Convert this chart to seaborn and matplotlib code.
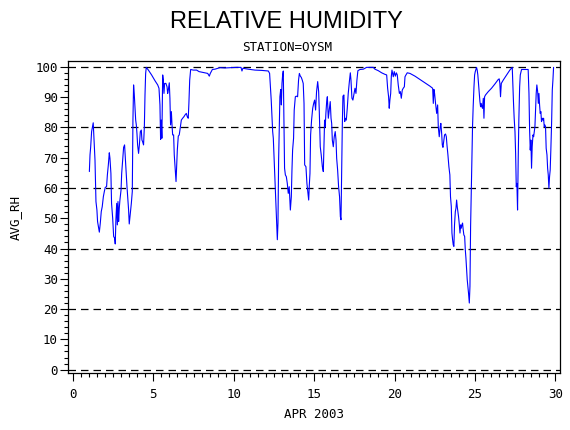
import numpy as np
import pandas as pd
import seaborn as sns
import matplotlib
matplotlib.use('Agg')
import matplotlib.pyplot as plt
from matplotlib.ticker import MultipleLocator

# hourly-ish readings, split into four stretches of the month
day_a = [1.02, 1.06, 1.10, 1.16, 1.20, 1.26, 1.31, 1.37, 1.41, 1.43,
         1.49, 1.53, 1.60, 1.64, 1.70, 1.76, 1.82, 1.89, 1.95, 2.01,
         2.09, 2.14, 2.20, 2.26, 2.30, 2.36, 2.40, 2.47, 2.53, 2.59,
         2.63, 2.67, 2.72, 2.76, 2.80, 2.84, 2.88, 2.92, 2.99, 3.03,
         3.09, 3.15, 3.21, 3.25, 3.30, 3.36, 3.42, 3.46, 3.50, 3.57,
         3.63, 3.69, 3.71, 3.73, 3.77, 3.81, 3.86, 3.90, 3.94, 3.98,
         4.02, 4.08, 4.13, 4.19, 4.25, 4.29, 4.33, 4.39, 4.44, 4.48,
         4.52, 4.56, 4.69, 4.89, 5.10, 5.27, 5.35, 5.41, 5.45, 5.49,
         5.53, 5.58, 5.62, 5.66, 5.70, 5.78, 5.85, 5.89, 5.93, 5.99,
         6.03, 6.07, 6.12, 6.16, 6.20, 6.26, 6.30, 6.34, 6.41, 6.45,
         6.49, 6.55, 6.61, 6.68, 6.74, 6.82, 6.90, 6.97, 7.05, 7.11,
         7.17, 7.21, 7.26, 7.32, 7.48, 7.69, 7.84]
rh_a = [65.4, 70.9, 73.4, 78.6, 79.7, 81.5, 75.8, 69.2, 60.4, 55.5,
        52.7, 48.9, 46.7, 45.4, 48.4, 52.2, 53.8, 57.1, 58.8, 60.2,
        60.4, 64.3, 67.6, 71.6, 69.8, 64.8, 54.9, 50.0, 44.0, 43.4,
        41.5, 49.5, 54.9, 47.8, 55.5, 48.9, 53.3, 56.0, 59.3, 64.8,
        69.2, 73.4, 74.2, 70.3, 65.9, 60.4, 56.0, 52.7, 48.1, 51.6,
        54.9, 58.8, 70.3, 82.4, 94.0, 91.2, 86.3, 82.4, 80.8, 78.0,
        74.2, 71.4, 74.2, 78.6, 79.1, 75.8, 75.3, 74.2, 80.2, 90.7,
        97.8, 99.8, 98.9, 97.3, 95.4, 94.0, 92.9, 87.4, 76.0, 82.4,
        76.4, 97.3, 95.6, 91.2, 94.5, 94.5, 93.4, 91.2, 92.3, 94.7,
        89.6, 80.8, 85.2, 80.8, 77.5, 77.5, 70.9, 67.6, 62.1, 67.0,
        72.5, 77.1, 77.5, 80.2, 82.4, 83.0, 83.5, 84.1, 84.6, 83.5,
        83.0, 87.9, 95.6, 99.1, 98.9, 98.9, 98.4]

day_b = [8.11, 8.38, 8.48, 8.54, 8.67, 8.83, 9.14, 9.45, 9.87, 10.18,
         10.45, 10.51, 10.57, 10.90, 11.32, 11.73, 12.15, 12.23, 12.27, 12.33,
         12.38, 12.42, 12.46, 12.50, 12.54, 12.58, 12.62, 12.67, 12.71, 12.75,
         12.79, 12.83, 12.87, 12.92, 12.96, 13.00, 13.04, 13.08, 13.12, 13.16,
         13.21, 13.27, 13.33, 13.39, 13.45, 13.52, 13.58, 13.62, 13.66, 13.72,
         13.76, 13.83, 13.89, 13.97, 14.03, 14.08, 14.14, 14.20, 14.26, 14.32,
         14.37, 14.41, 14.49, 14.55, 14.62, 14.66, 14.70, 14.74, 14.78, 14.84,
         14.91, 14.97, 15.03, 15.09, 15.15, 15.22, 15.28, 15.32]
rh_b = [98.1, 97.8, 96.9, 97.8, 99.1, 99.2, 99.7, 99.6, 99.7, 99.8,
        99.8, 98.6, 99.5, 99.2, 98.9, 98.8, 98.6, 97.8, 94.5, 89.0,
        83.5, 78.6, 76.4, 70.9, 65.9, 59.3, 53.8, 47.8, 42.9, 48.4,
        69.2, 80.2, 90.1, 92.5, 87.4, 94.5, 97.3, 98.6, 82.4, 66.5,
        64.3, 63.7, 61.5, 58.2, 60.4, 52.7, 57.1, 65.9, 72.5, 76.4,
        85.7, 90.1, 90.3, 90.1, 95.6, 97.8, 96.9, 96.5, 95.6, 94.5,
        87.9, 67.6, 67.0, 61.5, 58.2, 56.0, 61.0, 64.8, 77.5, 82.4,
        86.3, 87.9, 89.0, 85.7, 91.8, 95.1, 91.8, 85.2]

day_c = [15.38, 15.44, 15.51, 15.57, 15.61, 15.65, 15.69, 15.73, 15.78, 15.82,
         15.88, 15.94, 16.00, 16.05, 16.09, 16.13, 16.19, 16.25, 16.31, 16.36,
         16.40, 16.46, 16.52, 16.58, 16.63, 16.67, 16.71, 16.75, 16.79, 16.85,
         16.90, 16.94, 17.00, 17.06, 17.12, 17.19, 17.25, 17.29, 17.35, 17.41,
         17.48, 17.54, 17.60, 17.66, 17.72, 17.85, 18.06, 18.26, 18.47, 18.68,
         18.78, 18.99, 19.20, 19.40, 19.51, 19.57, 19.63, 19.67, 19.71, 19.76,
         19.80, 19.84, 19.88, 19.92, 19.98, 20.05, 20.11, 20.17, 20.23, 20.30,
         20.36, 20.42, 20.48, 20.54, 20.61, 20.65, 20.71, 20.79, 20.96, 21.27,
         21.58, 21.89, 22.20, 22.37, 22.41, 22.45, 22.49, 22.55, 22.62, 22.68,
         22.72, 22.78]
rh_c = [73.6, 70.9, 67.0, 65.4, 73.6, 82.4, 80.2, 84.6, 88.5, 90.1,
        83.0, 85.7, 88.5, 83.0, 81.3, 75.8, 73.6, 76.9, 78.6, 75.8,
        69.8, 65.9, 60.4, 57.1, 50.5, 49.5, 65.4, 80.2, 90.3, 90.7,
        81.9, 83.0, 82.4, 86.3, 91.2, 95.1, 98.0, 95.6, 89.6, 89.0,
        91.2, 92.9, 91.2, 95.6, 98.7, 99.1, 99.2, 99.8, 99.8, 99.8,
        99.2, 98.7, 98.0, 97.5, 97.3, 92.9, 90.1, 86.3, 89.0, 91.2,
        96.9, 98.9, 97.8, 96.7, 98.4, 96.9, 98.0, 97.3, 94.0, 91.2,
        91.8, 89.6, 92.3, 92.9, 93.4, 96.7, 97.3, 98.0, 97.8, 96.9,
        95.8, 94.7, 93.6, 92.9, 87.9, 92.5, 91.2, 87.9, 84.6, 87.4,
        80.2, 76.9]

day_d = [22.84, 22.88, 22.93, 22.97, 23.01, 23.07, 23.11, 23.17, 23.22, 23.26,
         23.32, 23.38, 23.44, 23.48, 23.53, 23.57, 23.61, 23.65, 23.69, 23.73,
         23.78, 23.82, 23.86, 23.90, 23.94, 23.98, 24.02, 24.07, 24.11, 24.15,
         24.19, 24.23, 24.27, 24.31, 24.36, 24.40, 24.44, 24.48, 24.52, 24.56,
         24.60, 24.65, 24.69, 24.73, 24.77, 24.81, 24.85, 24.89, 24.94, 24.98,
         25.02, 25.06, 25.10, 25.14, 25.18, 25.23, 25.27, 25.31, 25.35, 25.39,
         25.43, 25.47, 25.52, 25.56, 25.60, 25.66, 25.83, 26.03, 26.24, 26.45,
         26.51, 26.55, 26.59, 26.64, 26.76, 26.97, 27.17, 27.32, 27.36, 27.40,
         27.44, 27.49, 27.53, 27.57, 27.61, 27.65, 27.69, 27.73, 27.78, 27.82,
         27.90, 28.11, 28.31, 28.36, 28.40, 28.44, 28.48, 28.52, 28.56, 28.61,
         28.65, 28.69, 28.73, 28.77, 28.81, 28.85, 28.90, 28.94, 28.98, 29.02,
         29.06, 29.10, 29.14, 29.19, 29.23, 29.27, 29.31, 29.35, 29.39, 29.43,
         29.48, 29.52, 29.56, 29.60, 29.64, 29.68, 29.72, 29.77, 29.81, 29.85,
         29.89]
rh_d = [80.2, 81.3, 78.0, 74.2, 73.4, 75.8, 77.5, 77.8, 76.9, 74.2,
        70.9, 67.0, 64.3, 57.1, 53.8, 45.1, 42.9, 41.2, 40.7, 47.8,
        52.2, 53.3, 56.0, 53.8, 52.2, 50.5, 48.4, 45.1, 47.8, 46.7,
        47.8, 48.4, 46.2, 44.5, 44.0, 39.6, 36.8, 33.0, 29.7, 27.5,
        25.3, 22.0, 27.5, 47.3, 58.2, 70.3, 80.2, 86.8, 93.4, 97.3,
        98.4, 99.1, 99.8, 98.9, 97.3, 94.0, 91.8, 88.5, 86.8, 87.9,
        86.8, 86.3, 89.6, 83.0, 90.1, 90.7, 91.8, 92.9, 94.3, 95.8,
        96.0, 94.5, 90.1, 94.5, 95.6, 97.3, 98.9, 99.8, 93.4, 87.9,
        83.0, 78.6, 71.4, 60.4, 61.5, 52.7, 69.2, 82.4, 93.4, 97.3,
        99.1, 99.1, 99.1, 91.2, 79.1, 72.5, 75.8, 66.5, 73.6, 77.5,
        76.9, 78.6, 80.2, 85.7, 91.2, 94.0, 91.8, 87.9, 91.2, 87.4,
        84.6, 85.2, 81.9, 83.0, 82.4, 83.0, 80.2, 80.8, 80.2, 73.1,
        70.9, 66.5, 64.3, 59.9, 63.7, 65.9, 72.5, 81.9, 92.3, 95.6,
        99.8]

grid_levels = [0, 20, 40, 60, 80, 100]

df = pd.DataFrame({
    'day': day_a + day_b + day_c + day_d,
    'AVG_RH': rh_a + rh_b + rh_c + rh_d,
})

sns.set_style('white')
plt.rcParams['font.family'] = ['DejaVu Sans Mono', 'DejaVu Sans']
plt.rcParams.update({'text.color': 'black', 'axes.labelcolor': 'black',
                     'xtick.color': 'black', 'ytick.color': 'black'})

fig = plt.figure(figsize=(5.7, 4.3), dpi=100)
ax = fig.add_axes([68.3 / 570, (430 - 373.3) / 430,
                   (560 - 68.3) / 570, (373.3 - 61) / 430])

for lev in grid_levels:
    ax.axhline(lev, color='black', lw=0.9, ls=(0, (6, 4)), zorder=1)

sns.lineplot(data=df, x='day', y='AVG_RH', color='#0000ff', lw=0.8,
             estimator=None, sort=False, ax=ax, zorder=3)

ax.set_xlim(-0.29, 30.29)
ax.set_ylim(-1.2, 101.9)
ax.xaxis.set_major_locator(MultipleLocator(5))
ax.xaxis.set_minor_locator(MultipleLocator(0.5))
ax.yaxis.set_major_locator(MultipleLocator(10))
ax.yaxis.set_minor_locator(MultipleLocator(2))
ax.tick_params(which='major', direction='out', length=5.5, width=0.8,
               colors='black', labelsize=9, bottom=True, left=True)
ax.tick_params(which='minor', direction='out', length=3, width=0.8,
               bottom=True, left=True)
ax.tick_params(axis='y', pad=2)
ax.tick_params(axis='x', pad=5)
for s in ax.spines.values():
    s.set_color('black')
    s.set_linewidth(0.9)

ax.set_xlabel('APR 2003', fontsize=9, labelpad=5)
ax.set_ylabel('AVG_RH', fontsize=9, labelpad=10)

fig.text(0.503, 0.948, 'RELATIVE HUMIDITY', ha='center', va='center',
         fontsize=17, color='black', family=['Liberation Sans', 'DejaVu Sans'])
fig.text(0.503, 0.89, 'STATION=OYSM', ha='center', va='center',
         fontsize=9, color='black')

fig.savefig('out.png', dpi=100)
